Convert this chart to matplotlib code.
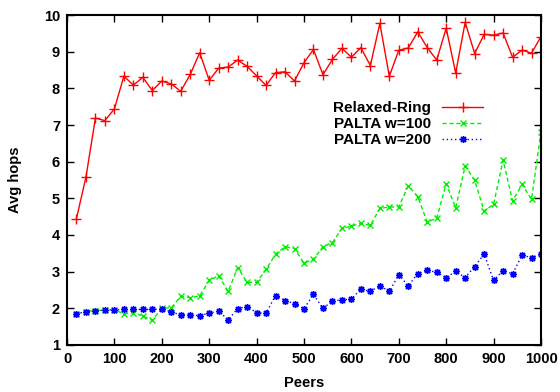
import matplotlib
matplotlib.use("Agg")
import matplotlib.pyplot as plt
import numpy as np

peers = list(range(20, 1001, 20))

relaxed_ring = [4.45, 5.58, 7.19, 7.12, 7.44, 8.33, 8.09, 8.30, 7.94, 8.20,
                8.12, 7.92, 8.38, 8.97, 8.22, 8.55, 8.58, 8.77, 8.60, 8.34,
                8.08, 8.43, 8.45, 8.20, 8.70, 9.06, 8.37, 8.79, 9.09, 8.85,
                9.11, 8.62, 9.77, 8.33, 9.04, 9.10, 9.54, 9.11, 8.77, 9.64,
                8.42, 9.80, 8.95, 9.47, 9.45, 9.51, 8.85, 9.04, 8.96, 9.41]

palta_100 = [1.85, 1.91, 1.94, 1.95, 1.96, 1.85, 1.88, 1.79, 1.67, 2.01,
             2.01, 2.33, 2.29, 2.34, 2.76, 2.89, 2.46, 3.11, 2.71, 2.71,
             3.06, 3.48, 3.68, 3.63, 3.23, 3.34, 3.68, 3.79, 4.18, 4.24,
             4.32, 4.26, 4.73, 4.76, 4.77, 5.34, 5.05, 4.35, 4.46, 5.40,
             4.74, 5.88, 5.50, 4.65, 4.84, 6.04, 4.93, 5.38, 4.97, 6.82]

palta_200 = [1.85, 1.91, 1.94, 1.95, 1.96, 1.97, 1.97, 1.97, 1.97, 1.98,
             1.90, 1.82, 1.82, 1.80, 1.87, 1.92, 1.69, 1.99, 2.05, 1.88,
             1.87, 2.35, 2.21, 2.13, 1.99, 2.38, 2.00, 2.20, 2.23, 2.25,
             2.53, 2.46, 2.62, 2.46, 2.92, 2.61, 2.95, 3.04, 2.98, 2.84,
             3.01, 2.84, 3.14, 3.48, 2.76, 3.03, 2.94, 3.45, 3.38, 3.48]

series_labels = ["Relaxed-Ring", "PALTA w=100", "PALTA w=200"]
x_ticks = list(range(0, 1001, 100))
y_ticks = list(range(1, 11))

plt.rcParams['font.family'] = ['Liberation Sans', 'DejaVu Sans']
plt.rcParams['font.weight'] = 'bold'

fig = plt.figure(figsize=(5.6, 3.92), dpi=100)
ax = fig.add_axes([67/560, 47/392, (541-67)/560, (345-15)/392])

ax.plot(peers, relaxed_ring, color='#ff0000', linestyle='-', linewidth=1.0,
        marker='+', markersize=7, markeredgewidth=1.0, label=series_labels[0])
ax.plot(peers, palta_100, color='#00ee00', linestyle=(0, (3, 2)), linewidth=1.0,
        marker='x', markersize=5, markeredgewidth=1.0, label=series_labels[1])
ax.plot(peers, palta_200, color='#0000ff', linestyle=(0, (1, 2)), linewidth=1.0,
        marker=(8, 2, 0), markersize=5, markeredgewidth=1.0, label=series_labels[2])

ax.set_xlim(0, 1000)
ax.set_ylim(1, 10)
ax.set_xticks(x_ticks)
ax.set_yticks(y_ticks)
ax.tick_params(direction='in', length=5, width=1.0, top=True, right=True,
               labelsize=10.5, pad=5)
for lbl in ax.get_xticklabels() + ax.get_yticklabels():
    lbl.set_fontweight('bold')
for sp in ax.spines.values():
    sp.set_linewidth(1.5)

ax.set_xlabel("Peers", fontsize=10.5, fontweight='bold')
ax.set_ylabel("Avg hops", fontsize=10.5, fontweight='bold')
ax.xaxis.set_label_coords(0.5, -0.094)
ax.yaxis.set_label_coords(-0.095, 0.5)

leg = ax.legend(loc='upper right', bbox_to_anchor=(0.878, 0.738), frameon=False,
                markerfirst=False, fontsize=11, handlelength=2.7,
                labelspacing=0.13, handletextpad=0.7, borderaxespad=0,
                borderpad=0)
for t in leg.get_texts():
    t.set_fontweight('bold')
fig.savefig("out.png", dpi=100)
